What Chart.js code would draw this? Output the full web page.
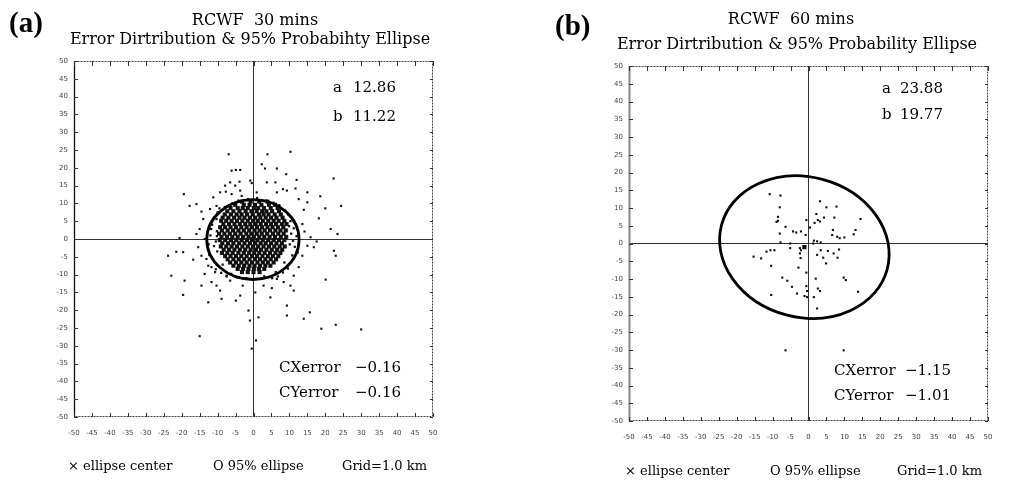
<!DOCTYPE html>
<html>
<head>
<meta charset="utf-8">
<script src="https://cdn.jsdelivr.net/npm/chart.js@4.4.1/dist/chart.umd.min.js"></script>
<style>
  html, body { margin: 0; padding: 0; background: #fff; }
  body { width: 1009px; height: 485px; position: relative; overflow: hidden; }
  .panel { position: absolute; top: 0; height: 485px; }
  #wrapA { left: 0; width: 505px; }
  #wrapB { left: 505px; width: 504px; }
</style>
</head>
<body>
<div class="panel" id="wrapA"><canvas id="chartA"></canvas></div>
<div class="panel" id="wrapB"><canvas id="chartB"></canvas></div>
<script>
// axis range shared by both panels (km)
const axisMin = -50, axisMax = 50, axisStep = 5;

const panelLetters = ['(a)', '(b)'];
const titleLines = ['RCWF  30 mins', 'RCWF  60 mins'];
const subtitleLines = ['Error Dirtribution & 95% Probabihty Ellipse', 'Error Dirtribution & 95% Probability Ellipse'];
const footerItems = ['\u00d7 ellipse center', 'O 95% ellipse', 'Grid=1.0 km'];

// 95% ellipse semi axes [a, b], centre error [CX, CY], tilt (deg)
const semiAxesA = [12.86, 11.22];
const centerErrA = [-0.16, -0.16];
const tiltA = 0;
const semiAxesB = [23.88, 19.77];
const centerErrB = [-1.15, -1.01];
const tiltB = -15;

// (a) scattered errors outside the dense core [x, y]
const outerA = [[-6.9,23.8],[3.9,23.8],[10.3,24.5],[-6.1,19.2],[-4.9,19.4],[-3.7,19.4],[2.3,21],[3.2,19.8],[6.5,19.8],[9.1,18.2],
  [12,16.6],[22.3,17],[-19.4,12.6],[-15.9,9.8],[-17.8,9.3],[-14.5,7.7],[18.6,12],[24.4,9.3],[20,8.6],[18.2,5.8],
  [21.5,2.8],[23.4,1.4],[-20.6,0.3],[-23.8,-4.7],[-21.5,-3.6],[-19.6,-3.7],[-16.8,-5.8],[-15.4,-2.3],[-22.9,-10.3],[-19.2,-11.7],
  [-19.6,-15.7],[-14.5,-13.1],[-12.6,-17.8],[-8.9,-16.8],[-4.9,-17.3],[-3.7,-15.9],[-1.4,-20.1],[-1,-22.9],[0.7,-28.5],[-0.5,-30.8],
  [-15,-27.3],[1.4,-22],[4.7,-16.4],[9.3,-18.7],[9.3,-21.5],[14,-22.4],[15.7,-20.6],[18.9,-25.2],[22.9,-24.1],[30,-25.4],
  [20.1,-11.4],[22.4,-3.3],[22.9,-4.7],[16.8,-2.3],[17.6,-0.7],[15.9,0.5],[11.2,-14.5],[10.3,-13.1],[6.5,-11.2],[5.1,-13.8],
  [-10.3,-13.1],[-11.7,-12.1],[-13.6,-9.8],[-12.6,-7.5],[-9.3,-14.5],[-6.5,-11.7],[-7.5,-10.3],[-4.5,-10.7],[-3,-13.1],[14,8.2],
  [15,10.3],[12.6,11.2],[15,13.1],[9.3,13.6],[8.2,14],[6.5,13.1],[11.7,14.2],[0.9,13.1],[-0.9,16.4],[-0.5,15.7],
  [3.7,15.9],[6.1,15.9],[-6.5,15.9],[-5.1,15],[-3.9,16.1],[-7.9,15],[-9.3,13.1],[-7.7,13.3],[-6.1,12.6],[-3.7,13.6],
  [-3.3,12.1],[-11.2,11.7],[-10.3,9.3],[-12.1,8.4],[-14,5.6],[-15,2.8],[-15.9,1.4],[-13.6,0],[-14.5,-4.7],[-13.1,-5.6],
  [-11.7,-7.9],[-10.7,-9.3],[13.6,4.2],[14.2,2.1],[15,-1.9],[13.6,-4.7],[12.6,-7.9],[11.2,-10.3],[8.4,-12.1],[2.8,-13.1],[0.5,-15]];

// (a) points near the ellipse rim
const ringA = [[-11.5,4],[-12,1],[-11,-2],[-12.3,-4.5],[-10.8,-6.5],[-10,7.5],[-11,6],[-10.5,-8.5],[-9,-9.5],[-7.5,-10.5],
  [-6,10],[-8,9],[-9.5,8.6],[-10.2,2.2],[-10.5,-0.7],[-11.8,2.8],[-12.5,-1.5],[-10.1,-3.5],[-10.3,5.6],[10.3,5],
  [11.2,3],[12,0.8],[11.5,-2.2],[10.8,-4.6],[12.3,-3.8],[10.2,-6.8],[9.6,-8.3],[8.2,-9.4],[6.8,-10.5],[5.2,-11],
  [3,-10.5],[-2,-11],[-4.5,-10.8],[7.2,9.5],[8.8,8],[9.8,6.8],[10.5,1.5],[11,-0.5],[9.9,3.6],[-1.5,11.2],
  [1,11.5],[3.5,10.8],[5.6,10.2],[-4.2,10.8],[6.2,-9.3],[-6.2,-9.8],[10.1,-1.5],[-10.2,0.8],[8.6,-6.6],[-8.6,-7.2]];

// (a) dense core, one row per y value: [y, [x...]]
const coreRowsA = [
  [10.5, [-3.2,-0.8,1.6,3.9]],
  [9.6, [-5.1,-2.7,-1.1,0.4,2.2,4.3,6.0]],
  [8.7, [-6.4,-4.4,-3.0,-1.6,0.1,1.3,2.9,4.8,6.7]],
  [7.8, [-7.3,-5.6,-3.9,-2.2,-0.6,0.9,2.4,3.6,5.2,7.1]],
  [6.9, [-8.0,-6.3,-4.7,-3.3,-1.8,-0.2,1.5,2.8,4.2,5.9,7.6]],
  [6.0, [-8.6,-7.0,-5.4,-3.9,-2.5,-1.0,0.5,1.9,3.4,4.9,6.4,8.1]],
  [5.1, [-9.0,-7.6,-6.1,-4.6,-3.1,-1.6,-0.1,1.2,2.6,4.1,5.6,7.0,8.6]],
  [4.2, [-8.4,-6.8,-5.3,-3.8,-2.3,-0.9,0.6,2.0,3.5,4.9,6.3,7.9,9.2]],
  [3.3, [-9.3,-7.9,-6.4,-4.9,-3.4,-1.9,-0.5,1.0,2.4,3.9,5.3,6.8,8.3]],
  [2.4, [-8.8,-7.2,-5.7,-4.2,-2.7,-1.2,0.3,1.7,3.1,4.6,6.1,7.5,9.0]],
  [1.5, [-9.6,-8.1,-6.6,-5.1,-3.6,-2.0,-0.6,0.9,2.3,3.8,5.4,6.9,8.4]],
  [0.6, [-8.9,-7.4,-5.9,-4.4,-2.9,-1.4,0.1,1.6,3.0,4.5,6.0,7.6,9.1]],
  [-0.3, [-9.4,-7.9,-6.3,-4.8,-3.3,-1.8,-0.4,1.1,2.6,4.1,5.6,7.1,8.6]],
  [-1.2, [-8.7,-7.1,-5.6,-4.0,-2.5,-1.0,0.5,2.0,3.4,4.9,6.4,7.9]],
  [-2.1, [-9.1,-7.6,-6.1,-4.6,-3.1,-1.6,-0.1,1.3,2.8,4.3,5.8,7.3,8.7]],
  [-3.0, [-8.3,-6.8,-5.3,-3.8,-2.3,-0.8,0.7,2.1,3.6,5.1,6.6,8.0]],
  [-3.9, [-8.8,-7.3,-5.8,-4.2,-2.7,-1.2,0.2,1.6,3.1,4.6,6.1,7.5]],
  [-4.8, [-7.9,-6.4,-4.9,-3.4,-1.9,-0.4,1.0,2.5,4.0,5.4,6.9]],
  [-5.7, [-7.2,-5.6,-4.1,-2.6,-1.1,0.4,1.8,3.3,4.8,6.3]],
  [-6.6, [-6.5,-4.9,-3.4,-1.9,-0.4,1.1,2.6,4.0,5.6]],
  [-7.5, [-5.6,-4.1,-2.6,-1.1,0.3,1.8,3.3,4.7]],
  [-8.4, [-4.4,-2.9,-1.4,0.1,1.5,3.0]],
  [-9.3, [-3.2,-1.6,0.0,1.7]]
];

// (b) errors [x, y]
const pointsB = [[-10.8,13.9],[-7.8,13.5],[-8.0,10.2],[-8.5,7.5],[-8.9,6.1],[-8.5,6.4],[-6.4,4.7],[-8.0,2.8],[-4.3,3.4],[-3.4,3.1],
  [-2.1,3.4],[-0.8,2.4],[0.4,4.5],[-0.6,6.6],[3.2,11.9],[5.0,10.2],[7.8,10.4],[2.2,8.3],[4.3,7.3],[2.6,6.6],
  [3.2,6.2],[1.7,5.8],[7.2,7.3],[14.5,6.9],[13.1,3.8],[12.6,2.6],[6.8,3.8],[6.6,2.4],[8.0,1.9],[8.7,1.5],
  [10.0,1.7],[1.5,0.8],[2.4,0.6],[3.4,0.3],[1.3,0],[-7.8,0.3],[-5.1,0],[-10.6,-1.9],[-9.5,-1.9],[-11.7,-2.3],
  [-15.3,-3.7],[-13.2,-4.2],[-10.4,-6.3],[-5.1,-1.3],[-2.4,-1.3],[-2.1,-1.9],[-2.4,-2.8],[-2.2,-4.1],[-2.8,-6.8],[-0.6,-8.2],
  [2.4,-3.2],[3.4,-1.9],[4.1,-4],[5.4,-2.1],[7.0,-2.8],[8.1,-4],[8.5,-1.7],[4.9,-5.6],[-7.3,-9.6],[-5.9,-10.5],
  [-4.6,-12.2],[-0.6,-12],[9.8,-9.6],[10.4,-10.3],[2.0,-9.9],[2.6,-12.7],[3.2,-13.4],[-10.4,-14.5],[-3.2,-14.1],[-1.1,-14.8],
  [-0.4,-15.1],[1.5,-15.1],[2.4,-18.3],[13.8,-13.6],[-0.4,-13.4],[-6.4,-30.1],[9.8,-30.1]];

const toXY = pairs => pairs.map(([x, y]) => ({ x, y }));
const coreA = coreRowsA.flatMap(([y, xs]) => xs.map(x => ({ x, y })));
const fmt = v => (v < 0 ? '\u2212' : '') + Math.abs(v).toFixed(2);

const SERIF = '"DejaVu Serif", serif';

function makePanel(canvasId, p) {
  const frame = {
    id: 'frame',
    beforeDatasetsDraw(chart) {
      const { ctx, chartArea: a } = chart;
      const xs = chart.scales.x, ys = chart.scales.y;
      ctx.save();
      ctx.strokeStyle = '#444';
      ctx.lineWidth = 1;
      ctx.setLineDash([2, 1]);
      ctx.strokeRect(a.left + 0.5, a.top + 0.5, a.width - 1, a.height - 1);
      ctx.setLineDash([]);
      ctx.strokeStyle = p.leftColor;
      ctx.lineWidth = p.leftWidth;
      ctx.beginPath(); ctx.moveTo(a.left + 0.5, a.top); ctx.lineTo(a.left + 0.5, a.bottom); ctx.stroke();
      // inward ticks on all four sides
      ctx.strokeStyle = '#333';
      ctx.lineWidth = 1;
      ctx.beginPath();
      xs.ticks.forEach((t, i) => {
        const x = Math.round(xs.getPixelForTick(i)) + 0.5;
        ctx.moveTo(x, a.top); ctx.lineTo(x, a.top + 5);
        ctx.moveTo(x, a.bottom); ctx.lineTo(x, a.bottom - 4);
      });
      ys.ticks.forEach((t, i) => {
        const y = Math.round(ys.getPixelForTick(i)) + 0.5;
        ctx.moveTo(a.left, y); ctx.lineTo(a.left + 4, y);
        ctx.moveTo(a.right, y); ctx.lineTo(a.right - 3, y);
      });
      ctx.stroke();
      ctx.restore();
    }
  };

  const ellipse = {
    id: 'ellipse',
    afterDatasetsDraw(chart) {
      const { ctx } = chart;
      const xs = chart.scales.x, ys = chart.scales.y;
      const cx = xs.getPixelForValue(p.center[0]);
      const cy = ys.getPixelForValue(p.center[1]);
      const rx = Math.abs(xs.getPixelForValue(p.center[0] + p.axes[0]) - cx);
      const ry = Math.abs(ys.getPixelForValue(p.center[1] + p.axes[1]) - cy);
      ctx.save();
      ctx.strokeStyle = '#000';
      ctx.lineWidth = 2.8;
      ctx.beginPath();
      ctx.ellipse(cx, cy, rx, ry, -p.tilt * Math.PI / 180, 0, Math.PI * 2);
      ctx.stroke();
      ctx.restore();
    }
  };

  const texts = {
    id: 'texts',
    afterDraw(chart) {
      const { ctx } = chart;
      ctx.save();
      ctx.fillStyle = '#000';
      ctx.textBaseline = 'middle';
      p.texts.forEach(t => {
        ctx.font = t.font;
        ctx.textAlign = t.align || 'left';
        ctx.fillText(t.s, t.x, t.y);
      });
      ctx.restore();
    }
  };

  const datasets = p.sets.map(s => ({
    data: s.data,
    pointStyle: s.style || 'rect',
    pointRadius: s.r,
    backgroundColor: '#111',
    borderColor: '#000',
    borderWidth: s.bw || 0,
    showLine: false
  }));

  const gridZero = {
    display: true,
    drawTicks: false,
    lineWidth: 1,
    color: c => (c.tick && c.tick.value === 0 ? '#333' : 'rgba(0,0,0,0)')
  };
  const tickFont = { family: '"DejaVu Sans", sans-serif', size: 7 };

  return new Chart(document.getElementById(canvasId), {
    type: 'scatter',
    data: { datasets },
    plugins: [frame, ellipse, texts],
    options: {
      responsive: true,
      maintainAspectRatio: false,
      animation: false,
      events: [],
      layout: { padding: p.pad },
      plugins: { legend: { display: false }, tooltip: { enabled: false } },
      scales: {
        x: {
          type: 'linear', min: axisMin, max: axisMax,
          afterFit: s => { s.height = 26; },
          border: { display: false },
          grid: gridZero,
          ticks: { stepSize: axisStep, autoSkip: false, maxRotation: 0, padding: 12, font: tickFont, color: '#444' }
        },
        y: {
          type: 'linear', min: axisMin, max: axisMax,
          afterFit: s => { s.width = 40; },
          border: { display: false },
          grid: gridZero,
          ticks: { stepSize: axisStep, autoSkip: false, padding: 6, font: tickFont, color: '#444' }
        }
      }
    }
  });
}

const titleFont = '16px ' + SERIF;
const valueFont = '15px ' + SERIF;
const footFont = '13px ' + SERIF;
const letterFont = 'bold 29px "Liberation Serif", serif';

makePanel('chartA', {
  pad: { left: 34, right: 72, top: 61, bottom: 42 },
  axes: semiAxesA, center: centerErrA, tilt: tiltA,
  leftColor: '#111', leftWidth: 1.3,
  sets: [
    { data: coreA, r: 2.9 },
    { data: toXY(ringA), r: 1.6 },
    { data: toXY(outerA), r: 1.5 },
    { data: [{ x: centerErrA[0], y: centerErrA[1] }], r: 3.5, style: 'crossRot', bw: 1.5 }
  ],
  texts: [
    { s: panelLetters[0], x: 9, y: 25, font: letterFont },
    { s: titleLines[0], x: 255, y: 21, font: titleFont, align: 'center' },
    { s: subtitleLines[0], x: 250, y: 40, font: titleFont, align: 'center' },
    { s: 'a', x: 333, y: 88, font: valueFont },
    { s: fmt(semiAxesA[0]), x: 353, y: 88, font: valueFont },
    { s: 'b', x: 333, y: 117, font: valueFont },
    { s: fmt(semiAxesA[1]), x: 353, y: 117, font: valueFont },
    { s: 'CXerror', x: 279, y: 368, font: valueFont },
    { s: fmt(centerErrA[0]), x: 355, y: 368, font: valueFont },
    { s: 'CYerror', x: 279, y: 393, font: valueFont },
    { s: fmt(centerErrA[1]), x: 355, y: 393, font: valueFont },
    { s: footerItems[0], x: 68, y: 467, font: footFont },
    { s: footerItems[1], x: 213, y: 467, font: footFont },
    { s: footerItems[2], x: 342, y: 467, font: footFont }
  ]
});

makePanel('chartB', {
  pad: { left: 84, right: 21, top: 66, bottom: 38 },
  axes: semiAxesB, center: centerErrB, tilt: tiltB,
  leftColor: '#888', leftWidth: 2,
  sets: [
    { data: toXY(pointsB), r: 1.5 },
    { data: [{ x: centerErrB[0], y: centerErrB[1] }], r: 3, style: 'rect', bw: 0 }
  ],
  texts: [
    { s: panelLetters[1], x: 50, y: 28, font: letterFont },
    { s: titleLines[1], x: 286, y: 20, font: titleFont, align: 'center' },
    { s: subtitleLines[1], x: 292, y: 45, font: titleFont, align: 'center' },
    { s: 'a', x: 377, y: 89, font: valueFont },
    { s: fmt(semiAxesB[0]), x: 395, y: 89, font: valueFont },
    { s: 'b', x: 377, y: 115, font: valueFont },
    { s: fmt(semiAxesB[1]), x: 395, y: 115, font: valueFont },
    { s: 'CXerror', x: 329, y: 371, font: valueFont },
    { s: fmt(centerErrB[0]), x: 400, y: 371, font: valueFont },
    { s: 'CYerror', x: 329, y: 396, font: valueFont },
    { s: fmt(centerErrB[1]), x: 400, y: 396, font: valueFont },
    { s: footerItems[0], x: 120, y: 472, font: footFont },
    { s: footerItems[1], x: 265, y: 472, font: footFont },
    { s: footerItems[2], x: 392, y: 472, font: footFont }
  ]
});
</script>
</body>
</html>
